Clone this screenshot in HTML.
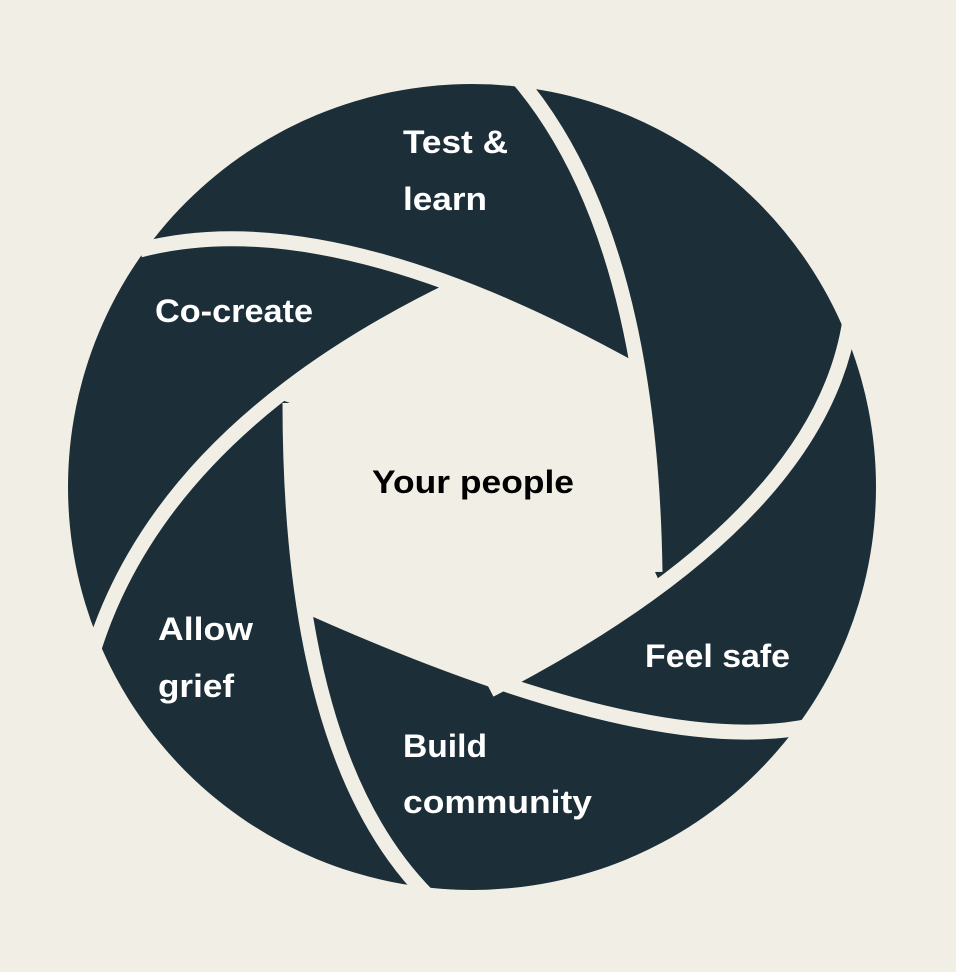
<!DOCTYPE html>
<html><head><meta charset="utf-8"><style>
html,body{margin:0;padding:0;background:#f1eee6;}
svg{display:block}
text{font-family:"Liberation Sans",sans-serif;font-weight:bold;font-size:32px;}
</style></head><body>
<svg width="956" height="972" viewBox="0 0 956 972" xmlns="http://www.w3.org/2000/svg">
<rect width="956" height="972" fill="#f1eee6"/>
<ellipse cx="472" cy="487" rx="404" ry="403" fill="#1c2e38"/>
<path d="M464,289 Q545.6,320.4 638,372 L638.5,372 Q653.4,462.6 655,572 L661,585 Q589,639 490,690 L495,681 Q408.5,651.5 305,605 L302.6,597.5 Q290,510 290,403 L276,398 Q351.8,337.7 455,288 Z" fill="#f1eee6"/>
<g fill="none" stroke="#f1eee6" stroke-width="15" stroke-linecap="butt">
<path d="M515,75 Q650,230 655,572"/>
<path d="M850,320 Q820,520 490,690"/>
<path d="M810,726 Q650,760 305,605"/>
<path d="M430,898 Q290,760 290,403"/>
<path d="M92,655 Q160,430 455,288"/>
<path d="M140,250 Q330,200 638,372"/>
</g>
<g fill="#fff">
<text x="403" y="153" textLength="105" lengthAdjust="spacingAndGlyphs">Test &amp;</text>
<text x="403" y="210" textLength="84" lengthAdjust="spacingAndGlyphs">learn</text>
<text x="155" y="322" textLength="158" lengthAdjust="spacingAndGlyphs">Co-create</text>
<text x="158" y="640" textLength="95" lengthAdjust="spacingAndGlyphs">Allow</text>
<text x="158" y="697" textLength="76" lengthAdjust="spacingAndGlyphs">grief</text>
<text x="403" y="757" textLength="84" lengthAdjust="spacingAndGlyphs">Build</text>
<text x="403" y="813" textLength="189" lengthAdjust="spacingAndGlyphs">community</text>
<text x="645" y="667" textLength="145" lengthAdjust="spacingAndGlyphs">Feel safe</text>
</g>
<text x="372" y="493" fill="#000" textLength="202" lengthAdjust="spacingAndGlyphs">Your people</text>
</svg>
</body></html>
